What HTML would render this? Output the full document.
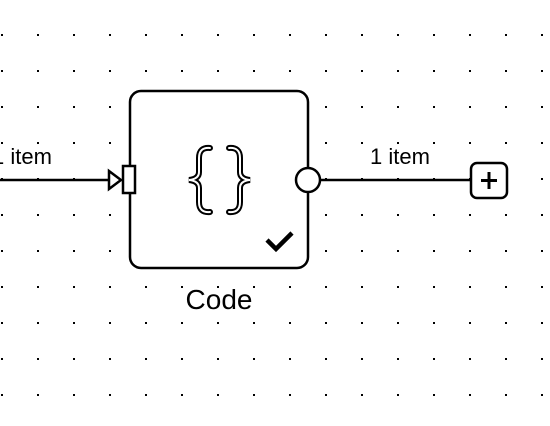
<!DOCTYPE html>
<html><head><style>
body{margin:0;background:#fff;width:550px;height:426px;overflow:hidden}
svg{display:block}
text{font-family:"Liberation Sans",sans-serif;fill:#000}
</style></head><body>
<svg width="550" height="426" xmlns="http://www.w3.org/2000/svg">
<defs><pattern id="d" x="1" y="34" width="36" height="36" patternUnits="userSpaceOnUse"><rect width="2" height="2" fill="#000"/></pattern></defs>
<rect width="550" height="426" fill="url(#d)"/>
<line x1="0" y1="180" x2="110" y2="180" stroke="#000" stroke-width="2.5"/>
<line x1="321" y1="180" x2="470" y2="180" stroke="#000" stroke-width="2.5"/>
<text x="-8" y="164" font-size="22">1 item</text>
<text x="370" y="164" font-size="22">1 item</text>
<rect x="130" y="91" width="178" height="177" rx="11" fill="#fff" stroke="#000" stroke-width="2.5"/>
<polygon points="109,171 109,189 121,180" fill="#fff" stroke="#000" stroke-width="2.5"/>
<rect x="123" y="166" width="12" height="27" fill="#fff" stroke="#000" stroke-width="2.5"/>
<circle cx="308" cy="180" r="12" fill="#fff" stroke="#000" stroke-width="2.5"/>
<g fill="none" stroke-linecap="round">
<path d="M210,148 Q199,147 199,158 L199,172 Q199,179 189,180 Q199,181 199,188 L199,202 Q199,213 210,212" stroke="#000" stroke-width="6"/>
<path d="M210,148 Q199,147 199,158 L199,172 Q199,179 189,180 Q199,181 199,188 L199,202 Q199,213 210,212" stroke="#fff" stroke-width="2"/>
<path d="M229,148 Q240,147 240,158 L240,172 Q240,179 250,180 Q240,181 240,188 L240,202 Q240,213 229,212" stroke="#000" stroke-width="6"/>
<path d="M229,148 Q240,147 240,158 L240,172 Q240,179 250,180 Q240,181 240,188 L240,202 Q240,213 229,212" stroke="#fff" stroke-width="2"/>
</g>
<polyline points="267,240 276,249 292,233" fill="none" stroke="#000" stroke-width="4.5"/>
<text x="219" y="309" font-size="28" text-anchor="middle">Code</text>
<rect x="471" y="163" width="36" height="35" rx="6" fill="#fff" stroke="#000" stroke-width="2.5"/>
<line x1="481" y1="180.5" x2="497" y2="180.5" stroke="#000" stroke-width="3"/>
<line x1="489" y1="172" x2="489" y2="189" stroke="#000" stroke-width="3"/>
</svg>
</body></html>
